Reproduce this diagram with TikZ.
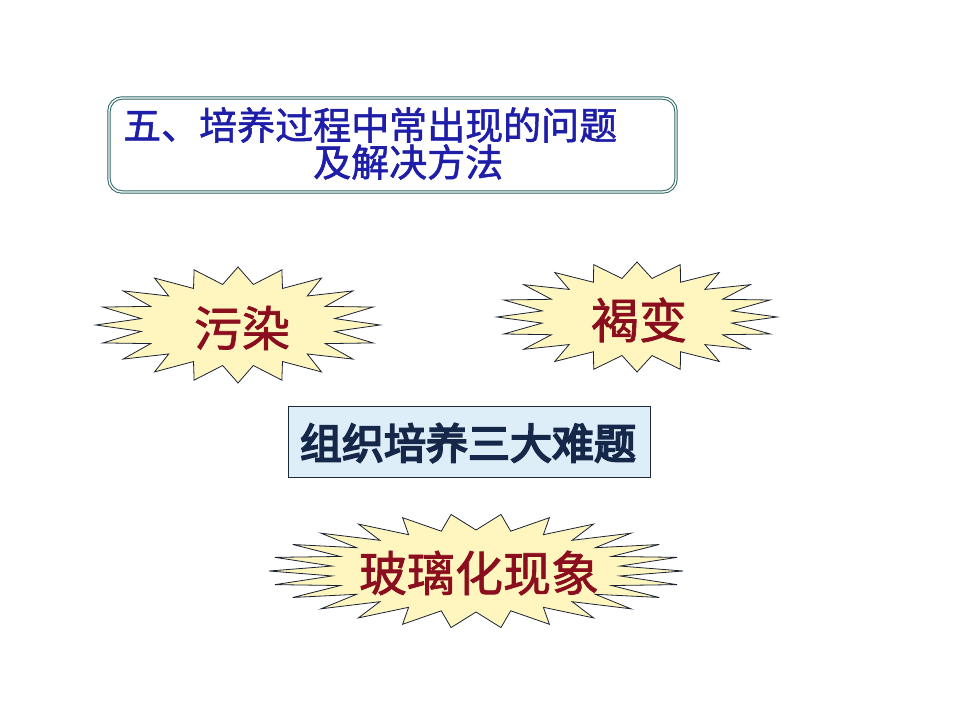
\documentclass[tikz,border=0pt]{standalone}
\usepackage{fontspec}
\newfontfamily\cjk{Noto Sans CJK SC}
\newfontfamily\cjkb[FakeBold=4.5]{Noto Sans CJK SC}
\newfontfamily\cjkm[FakeBold=1.5]{Noto Sans CJK SC}
\definecolor{titleblue}{HTML}{1E1EA8}
\definecolor{tealline}{HTML}{2A6465}
\definecolor{burstfill}{HTML}{FFF5BE}
\definecolor{burstline}{HTML}{1A2233}
\definecolor{burstred}{HTML}{8A0E1E}
\definecolor{boxfill}{HTML}{DDEEF8}
\definecolor{boxline}{HTML}{1C2A3A}
\definecolor{boxtext}{HTML}{16284A}
% cx, cy, A, B, a, b, lastindex, count
\newcommand{\mkburst}[8]{%
  \filldraw[burstshape] plot[samples at={0,...,#7}]
    ({#1+ifthenelse(isodd(\x),#5,#3)*cos(\x*(360/#8))},
     {#2+ifthenelse(isodd(\x),#6,#4)*sin(\x*(360/#8))}) -- cycle;}
\begin{document}
\begin{tikzpicture}[x=1pt,y=1pt,
  burstshape/.style={fill=burstfill, draw=burstline, line width=0.8pt, line join=miter},
  titletext/.style={text=titleblue, font=\cjkm\fontsize{38}{42}\selectfont, inner sep=0pt, anchor=west},
  bursttext/.style={text=burstred, font=\cjkm\fontsize{48}{52}\selectfont, inner sep=0pt},
  titlebox/.style={draw=tealline, double=white, double distance=1.4pt, line width=1pt, rounded corners=13pt},
  labelbox/.style={draw=boxline, fill=boxfill, line width=1pt}
]
\useasboundingbox (0,0) rectangle (960,720);
\fill[white] (0,0) rectangle (960,720);

% title
\draw[titlebox] (109,720-98) rectangle (676,720-192);
\node[titletext] (t1) at (123,720-125) {五、培养过程中常出现的问题};
\node[titletext] (t2) at (313,720-162) {及解决方法};

% bursts
\mkburst{238}{720-325}{142}{58}{98}{41}{39}{40}
\node[bursttext] (wr) at (242,720-328) {污染};

\mkburst{637}{720-317}{140}{55}{96}{39}{39}{40}
\node[bursttext] (hb) at (639,720-320) {褐变};

\mkburst{476}{720-571}{207}{57}{145}{41}{51}{52}
\node[bursttext] (blh) at (479,720-573) {玻璃化现象};

% center box
\draw[labelbox] (288,720-407) rectangle (650,720-478);
\node[text=boxtext, font=\cjkb\fontsize{42}{46}\selectfont, inner sep=0pt] (nt) at (468,720-443) {组织培养三大难题};
\end{tikzpicture}
\end{document}
